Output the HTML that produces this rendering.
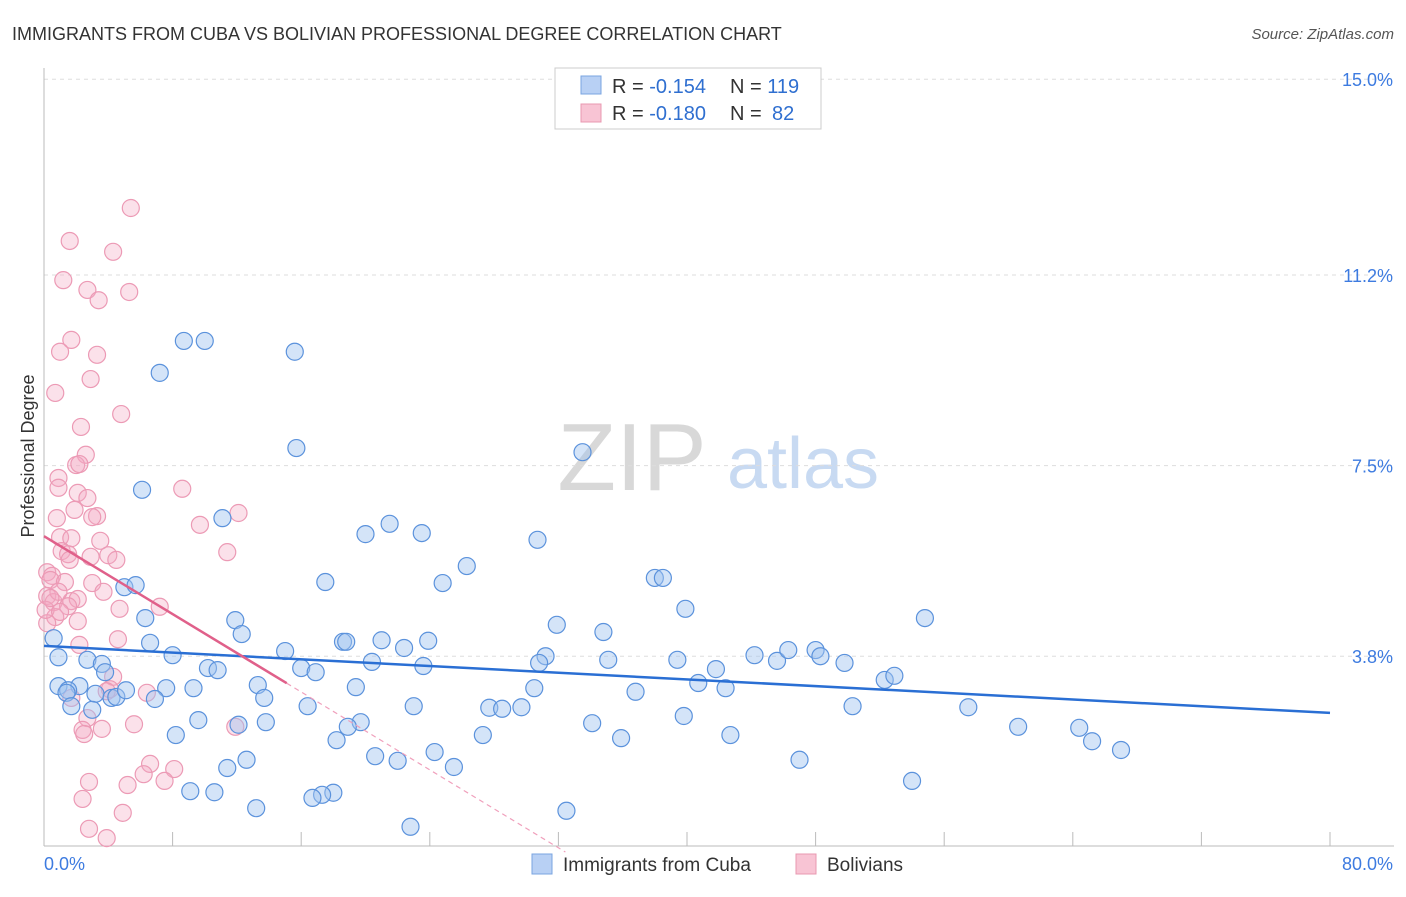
<!DOCTYPE html>
<html><head><meta charset="utf-8"><style>
body{margin:0;background:#fff;font-family:"Liberation Sans",sans-serif;}
svg text{font-family:"Liberation Sans",sans-serif;}
</style></head><body>
<svg id="chart" width="1406" height="892" xmlns="http://www.w3.org/2000/svg">
<text x="12" y="40" font-size="18" fill="#333">IMMIGRANTS FROM CUBA VS BOLIVIAN PROFESSIONAL DEGREE CORRELATION CHART</text>
<text x="1394" y="39" font-size="15" fill="#555" text-anchor="end" font-style="italic">Source: ZipAtlas.com</text>
<g>
<text x="632" y="490" font-size="96" fill="#d8d8d8" font-family="Liberation Serif" text-anchor="middle">ZIP</text>
<text x="803" y="488" font-size="72" fill="#c8daf2" text-anchor="middle">atlas</text>
</g>
<g id="grid"></g>
<g id="axes"></g>
<g id="points"></g>
<g id="trends"></g>
<text transform="translate(34,456) rotate(-90)" font-size="18" fill="#333" text-anchor="middle">Professional Degree</text>
<g>
<rect x="555" y="68" width="266" height="61" fill="#fff" stroke="#ccc"/>
<rect x="581" y="76" width="20" height="18" fill="#b8d0f4" stroke="#7aa4e0"/>
<rect x="581" y="104" width="20" height="18" fill="#f8c4d4" stroke="#e898b0"/>
<text x="612" y="93" font-size="20" fill="#333">R = <tspan fill="#2f6fd0">-0.154</tspan><tspan x="730">N = </tspan><tspan fill="#2f6fd0">119</tspan></text>
<text x="612" y="120" font-size="20" fill="#333">R = <tspan fill="#2f6fd0">-0.180</tspan><tspan x="730">N = </tspan><tspan fill="#2f6fd0" x="772">82</tspan></text>
</g>
<g>
<rect x="532" y="854" width="20" height="20" fill="#b8d0f4" stroke="#7aa4e0"/>
<text x="563" y="871" font-size="19" fill="#333">Immigrants from Cuba</text>
<rect x="796" y="854" width="20" height="20" fill="#f8c4d4" stroke="#e898b0"/>
<text x="827" y="871" font-size="19" fill="#333">Bolivians</text>
</g>
</svg>
<script>
const yTicks=[3.8,7.5,11.2,15.0];
const yTickLabels=["3.8%","7.5%","11.2%","15.0%"];
const xTickLabels=["0.0%","80.0%"];
const cubaX=[10.0,8.7,15.6,7.2,15.7,33.5,6.1,21.5,20.0,23.5,30.7,11.1,26.3,17.5,24.8,38.0,38.5,5.0,5.7,39.9,54.8,11.9,6.3,31.9,34.8,12.3,6.6,18.6,18.8,21.0,22.4,23.9,0.6,15.0,8.0,0.9,2.7,3.6,3.8,35.1,39.4,31.2,30.8,20.4,16.0,16.9,23.6,10.2,10.8,44.2,45.6,46.3,48.0,48.3,49.8,41.8,52.3,52.9,40.7,42.4,0.9,2.2,1.5,1.4,3.2,4.2,4.5,5.1,7.6,9.3,6.9,13.3,13.7,19.4,30.5,36.8,1.7,3.0,16.4,23.0,27.7,28.5,29.7,50.3,57.5,39.8,9.6,13.8,12.1,19.7,18.9,34.1,8.2,27.3,35.9,42.7,60.6,64.4,65.2,67.0,18.2,24.3,20.6,22.0,12.6,11.4,25.5,47.0,9.1,10.6,18.0,17.3,16.7,13.2,54.0,32.5,22.8];
const cubaY=[9.92,9.92,9.71,9.30,7.84,7.76,7.03,6.37,6.17,6.19,6.06,6.48,5.55,5.24,5.22,5.32,5.32,5.14,5.18,4.72,4.54,4.50,4.54,4.41,4.27,4.23,4.06,4.08,4.08,4.11,3.96,4.10,4.15,3.90,3.82,3.78,3.73,3.65,3.49,3.73,3.73,3.80,3.67,3.69,3.57,3.49,3.61,3.57,3.53,3.82,3.71,3.92,3.92,3.80,3.67,3.55,3.34,3.42,3.28,3.18,3.22,3.22,3.14,3.09,3.07,2.99,3.01,3.14,3.18,3.18,2.97,3.24,2.99,3.20,3.18,3.11,2.83,2.76,2.83,2.83,2.80,2.78,2.81,2.83,2.81,2.64,2.56,2.52,2.47,2.52,2.43,2.50,2.27,2.27,2.21,2.27,2.43,2.41,2.15,1.98,2.17,1.94,1.86,1.77,1.79,1.63,1.65,1.79,1.18,1.16,1.15,1.11,1.05,0.85,1.38,0.80,0.49];
const bolX=[5.4,1.6,4.3,1.2,2.7,5.3,3.4,1.7,1.0,3.3,2.9,0.7,4.8,2.3,2.6,2.0,2.2,0.9,0.9,8.6,2.1,2.7,12.1,9.7,0.8,1.9,3.3,3.0,1.0,1.7,3.5,1.1,1.5,4.0,4.5,1.6,2.9,11.4,0.2,0.5,0.4,1.3,3.0,3.7,0.2,0.6,1.7,2.1,1.5,7.2,4.7,0.7,2.1,0.2,2.2,4.6,4.3,4.1,3.9,6.4,1.7,2.7,5.6,11.9,2.4,2.5,3.6,6.6,8.1,6.2,7.5,2.8,5.2,2.4,4.9,2.8,3.9,0.9,0.1,0.4,1.0];
const bolY=[12.50,11.86,11.65,11.10,10.91,10.87,10.71,9.94,9.71,9.65,9.18,8.91,8.50,8.25,7.71,7.51,7.53,7.26,7.07,7.05,6.97,6.87,6.58,6.35,6.48,6.64,6.52,6.50,6.11,6.09,6.04,5.84,5.78,5.76,5.67,5.67,5.73,5.82,5.43,5.36,5.28,5.24,5.22,5.05,4.97,4.85,4.87,4.91,4.77,4.76,4.72,4.56,4.48,4.44,4.02,4.13,3.40,3.16,3.12,3.09,2.99,2.60,2.48,2.43,2.37,2.29,2.39,1.71,1.61,1.51,1.38,1.36,1.30,1.03,0.76,0.45,0.27,5.05,4.70,4.93,4.66];
const cubaTrend=[4.00,2.70];
const bolTrend=[6.13,-0.189];

const NS="http://www.w3.org/2000/svg";
const X0=44,X1=1330,Y0=852,PPY=51.52;
function sx(v){return X0+(v/80)*(X1-X0);}
function sy(v){return Y0-v*PPY;}
function mk(tag,attrs,parent){const e=document.createElementNS(NS,tag);for(const k in attrs)e.setAttribute(k,attrs[k]);parent.appendChild(e);return e;}
const grid=document.getElementById('grid'),axes=document.getElementById('axes'),pts=document.getElementById('points'),tr=document.getElementById('trends');
yTicks.forEach((t,i)=>{
  const l=mk('line',{x1:44,x2:1394,y1:sy(t),y2:sy(t),stroke:'#ddd','stroke-dasharray':'4,4'},grid);
  
  
  const tx=mk('text',{x:1393,y:sy(t)+7,'font-size':18,fill:'#3d7be0','text-anchor':'end'},axes);
  tx.textContent=yTickLabels[i];
  
  
});
const ya=mk('line',{x1:44,x2:44,y1:68,y2:846,stroke:'#bbb'},axes);


const xa=mk('line',{x1:44,x2:1394,y1:846,y2:846,stroke:'#bbb'},axes);


for(let i=0;i<=10;i++){
  const tk=mk('line',{x1:sx(i*8),x2:sx(i*8),y1:832,y2:846,stroke:'#bbb'},axes);
  
  
}
const xl0=mk('text',{x:44,y:870,'font-size':18,fill:'#3d7be0'},axes);xl0.textContent=xTickLabels[0];


const xl1=mk('text',{x:1393,y:870,'font-size':18,fill:'#3d7be0','text-anchor':'end'},axes);xl1.textContent=xTickLabels[1];


bolX.forEach((x,i)=>{
  const c=mk('circle',{cx:sx(x),cy:sy(bolY[i]),r:8.5,fill:'rgba(244,170,194,0.35)',stroke:'#ec9ab5','stroke-width':1.2},pts);
  
  
});
cubaX.forEach((x,i)=>{
  const c=mk('circle',{cx:sx(x),cy:sy(cubaY[i]),r:8.5,fill:'rgba(160,196,240,0.45)',stroke:'#5b92dc','stroke-width':1.2},pts);
  
  
});
const bl=mk('line',{x1:sx(0),y1:sy(cubaTrend[0]),x2:sx(80),y2:sy(cubaTrend[1]),stroke:'#2a6fd4','stroke-width':2.5},tr);


const xe=15.1,xz=-bolTrend[0]/bolTrend[1];
const pl=mk('line',{x1:sx(0),y1:sy(bolTrend[0]),x2:sx(xe),y2:sy(bolTrend[0]+bolTrend[1]*xe),stroke:'#e0608a','stroke-width':2.5},tr);


const pd=mk('line',{x1:sx(xe),y1:sy(bolTrend[0]+bolTrend[1]*xe),x2:sx(xz),y2:sy(0),stroke:'#f0a0bc','stroke-width':1.2,'stroke-dasharray':'5,4'},tr);


</script>
</body></html>
